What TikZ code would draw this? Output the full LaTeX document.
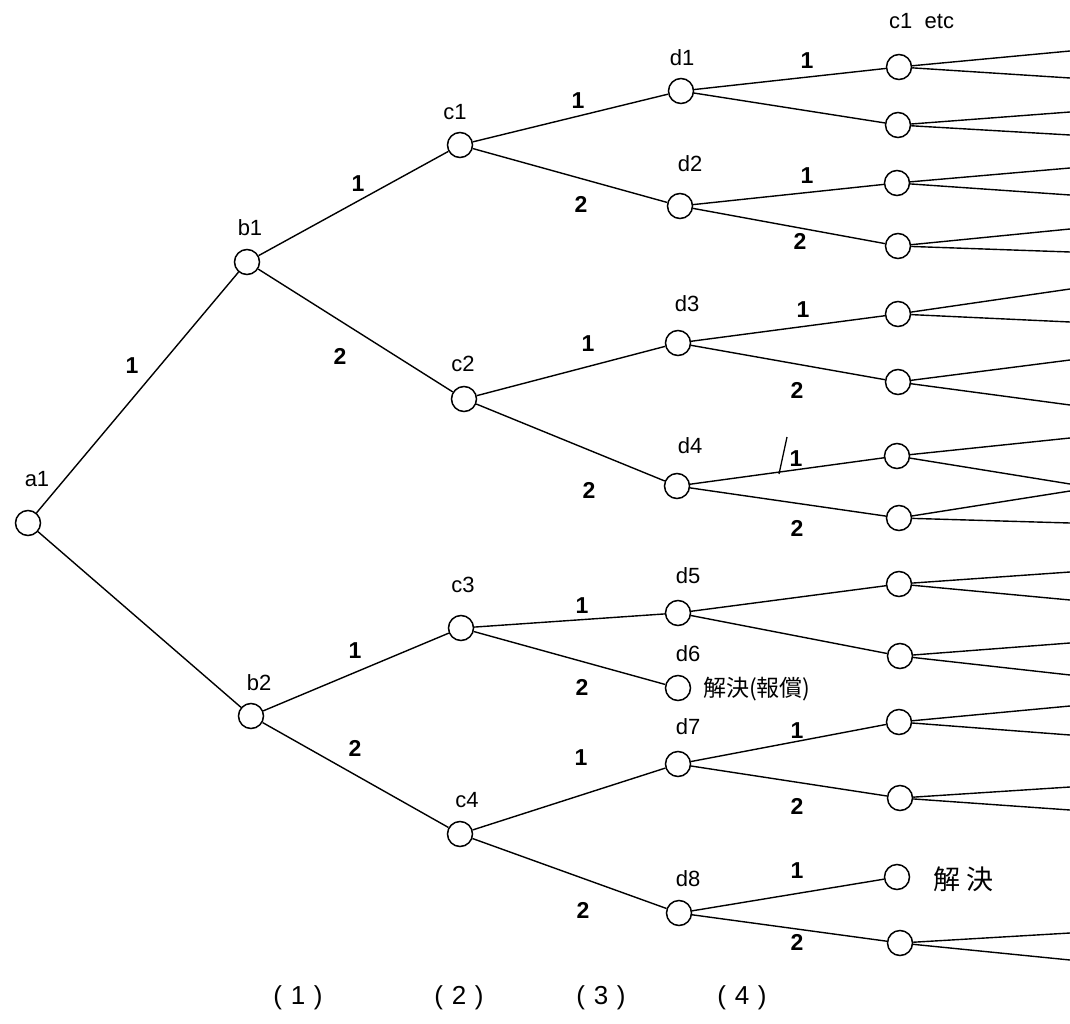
\documentclass[tikz,border=0pt]{standalone}
\usepackage{fontspec}
\setmainfont{Liberation Sans}
\newfontfamily\cjk{Noto Sans CJK JP}
\begin{document}
\begin{tikzpicture}[x=1pt,y=-1pt,
  st/.style={circle,draw,line width=1.5pt,minimum size=25pt,inner sep=0pt},
  ln/.style={line width=1.4pt},
  nl/.style={font=\fontsize{22}{22}\selectfont,inner sep=0pt},
  el/.style={font=\fontsize{23}{23}\selectfont\bfseries,inner sep=0pt},
  bl/.style={font=\fontsize{26}{26}\selectfont,inner sep=0pt}]
\useasboundingbox (0,0) rectangle (1070,1024);
% level nodes
\node[st] (a1) at (28,523) {};
\node[st] (b1) at (247,262) {};
\node[st] (b2) at (251,716) {};
\node[st] (c1) at (460,145) {};
\node[st] (c2) at (464,399) {};
\node[st] (c3) at (461,628) {};
\node[st] (c4) at (460,834) {};
\node[st] (d1) at (681,91) {};
\node[st] (d2) at (680,206) {};
\node[st] (d3) at (678,343) {};
\node[st] (d4) at (677,486) {};
\node[st] (d5) at (678,613) {};
\node[st] (d6) at (678,688) {};
\node[st] (d7) at (678,764) {};
\node[st] (d8) at (679,913) {};
\node[st] (e1) at (899,67) {};
\node[st] (e2) at (898,125) {};
\node[st] (e3) at (897,183) {};
\node[st] (e4) at (898,246) {};
\node[st] (e5) at (898,314) {};
\node[st] (e6) at (898,382) {};
\node[st] (e7) at (897,456) {};
\node[st] (e8) at (899,518) {};
\node[st] (e9) at (899,584) {};
\node[st] (e10) at (900,656) {};
\node[st] (e11) at (899,722) {};
\node[st] (e12) at (900,798) {};
\node[st] (e13) at (897,877) {};
\node[st] (e14) at (900,943) {};
% node labels
\node[nl] (la1) at (37,479) {a1};
\node[nl] (lb1) at (250,228) {b1};
\node[nl] (lb2) at (259,683) {b2};
\node[nl] (lc1) at (455,112) {c1};
\node[nl] (lc2) at (463,364) {c2};
\node[nl] (lc3) at (463,585) {c3};
\node[nl] (lc4) at (467,800) {c4};
\node[nl] (ld1) at (682,58) {d1};
\node[nl] (ld2) at (690,164) {d2};
\node[nl] (ld3) at (687,304) {d3};
\node[nl] (ld4) at (690,446) {d4};
\node[nl] (ld5) at (688,576) {d5};
\node[nl] (ld6) at (688,654) {d6};
\node[nl] (ld7) at (688,727) {d7};
\node[nl] (ld8) at (688,879) {d8};
\node[nl,anchor=west] (letc) at (889,21) {c1\ \ etc};
\node[anchor=west,inner sep=0pt,font=\cjk\fontsize{23}{23}\selectfont] (t1) at (703,689) {解決(報償)};
\node[anchor=west,inner sep=0pt,font=\cjk\fontsize{27}{27}\selectfont] (t2) at (933,879) {解\ 決};
% connectors
\draw[ln] (a1) -- (b1);
\draw[ln] (a1) -- (b2);
\draw[ln] (b1) -- (c1);
\draw[ln] (b1) -- (c2);
\draw[ln] (b2) -- (c3);
\draw[ln] (b2) -- (c4);
\draw[ln] (c1) -- (d1);
\draw[ln] (c1) -- (d2);
\draw[ln] (c2) -- (d3);
\draw[ln] (c2) -- (d4);
\draw[ln] (c3) -- (d5);
\draw[ln] (c3) -- (d6);
\draw[ln] (c4) -- (d7);
\draw[ln] (c4) -- (d8);
\draw[ln] (d1) -- (e1);
\draw[ln] (d1) -- (e2);
\draw[ln] (d2) -- (e3);
\draw[ln] (d2) -- (e4);
\draw[ln] (d3) -- (e5);
\draw[ln] (d3) -- (e6);
\draw[ln] (d4) -- (e7);
\draw[ln] (d4) -- (e8);
\draw[ln] (d5) -- (e9);
\draw[ln] (d5) -- (e10);
\draw[ln] (d7) -- (e11);
\draw[ln] (d7) -- (e12);
\draw[ln] (d8) -- (e13);
\draw[ln] (d8) -- (e14);
% outgoing stubs
\foreach \n/\ya/\yb in {e1/51/78, e2/112/135, e3/168/195, e4/229/252, e5/289/322, e6/360/405, e7/438/484, e8/491/523, e9/572/600, e10/643/675, e11/706/735, e12/787/810, e14/933/960}{
  \coordinate (\n u) at (1070,\ya);
  \coordinate (\n l) at (1070,\yb);
  \draw[ln] (\n) -- (\n u);
  \draw[ln] (\n) -- (\n l);
}
% edge labels
\node[el] (l1) at (132,366) {1};
\node[el] (l2) at (358,184) {1};
\node[el] (l3) at (340,356) {2};
\node[el] (l4) at (355,651) {1};
\node[el] (l5) at (355,748) {2};
\node[el] (l6) at (578,101) {1};
\node[el] (l7) at (581,204) {2};
\node[el] (l8) at (588,344) {1};
\node[el] (l9) at (589,490) {2};
\node[el] (l10) at (582,606) {1};
\node[el] (l11) at (582,687) {2};
\node[el] (l12) at (581,758) {1};
\node[el] (l13) at (583,910) {2};
\node[el] (l14) at (807,61) {1};
\node[el] (l15) at (807,176) {1};
\node[el] (l16) at (800,241) {2};
\node[el] (l17) at (803,310) {1};
\node[el] (l18) at (797,390) {2};
\node[el] (l19) at (796,459) {1};
\node[el] (l20) at (797,528) {2};
\node[el] (l21) at (797,731) {1};
\node[el] (l22) at (797,806) {2};
\node[el] (l23) at (797,871) {1};
\node[el] (l24) at (797,942) {2};
\coordinate (s1) at (779,474);
\coordinate (s2) at (787,437);
\draw[line width=1.3pt] (s1) -- (s2);
% column labels
\node[bl] (k1) at (298,998) {(\,\,1\,\,)};
\node[bl] (k2) at (459,998) {(\,\,2\,\,)};
\node[bl] (k3) at (601,998) {(\,\,3\,\,)};
\node[bl] (k4) at (742,998) {(\,\,4\,\,)};
\end{tikzpicture}
\end{document}
